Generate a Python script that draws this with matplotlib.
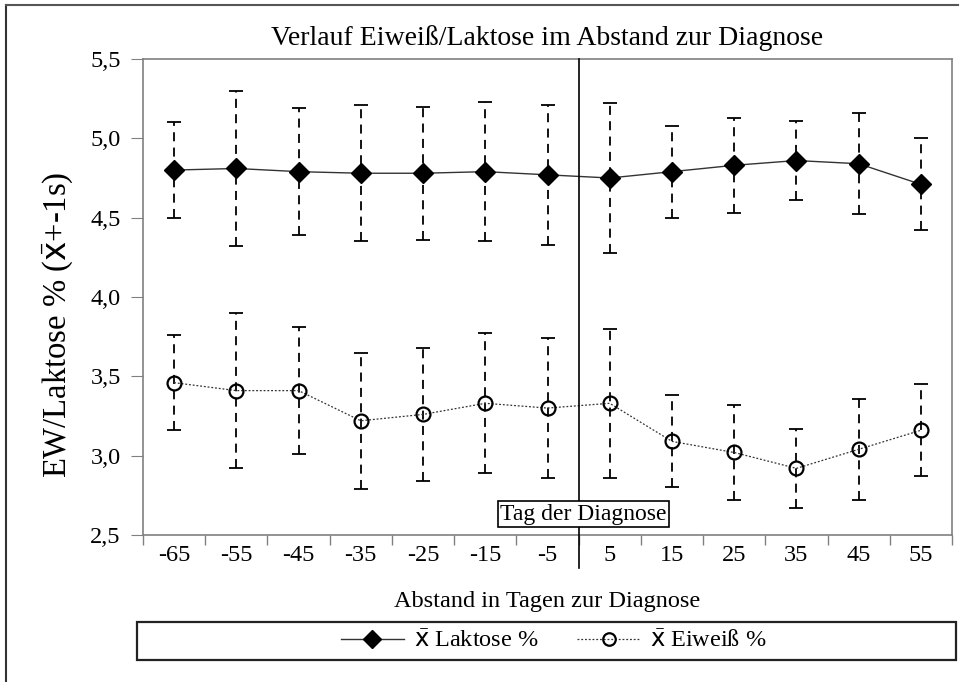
import numpy as np
import matplotlib.pyplot as plt
from matplotlib.lines import Line2D
from matplotlib.patches import Rectangle
from matplotlib.ticker import FuncFormatter, FixedLocator

plt.rcParams['font.family'] = ['Liberation Serif', 'DejaVu Sans']
plt.rcParams['mathtext.fontset'] = 'custom'
plt.rcParams['mathtext.rm'] = 'Liberation Serif'
plt.rcParams['mathtext.sf'] = 'DejaVu Sans'

days = ["-65", "-55", "-45", "-35", "-25", "-15", "-5", "5", "15", "25", "35", "45", "55"]

laktose_mean = [4.80, 4.81, 4.79, 4.78, 4.78, 4.79, 4.77, 4.75, 4.79, 4.83, 4.86, 4.84, 4.71]
laktose_hi = [5.10, 5.30, 5.19, 5.21, 5.20, 5.23, 5.21, 5.22, 5.08, 5.13, 5.11, 5.16, 5.00]
laktose_lo = [4.50, 4.32, 4.39, 4.35, 4.36, 4.35, 4.33, 4.28, 4.50, 4.53, 4.61, 4.52, 4.42]

eiweiss_mean = [3.46, 3.41, 3.41, 3.22, 3.26, 3.33, 3.30, 3.33, 3.09, 3.02, 2.92, 3.04, 3.16]
eiweiss_hi = [3.76, 3.90, 3.81, 3.65, 3.68, 3.77, 3.74, 3.80, 3.38, 3.32, 3.17, 3.36, 3.45]
eiweiss_lo = [3.16, 2.92, 3.01, 2.79, 2.84, 2.89, 2.86, 2.86, 2.80, 2.72, 2.67, 2.72, 2.87]

xbar = r"$\bar{\mathsf{x}}$"

x = np.arange(len(days))

fig = plt.figure(figsize=(9.68, 6.82), dpi=100)
ax = fig.add_axes([143 / 968, 1 - 535 / 682, 809 / 968, 476 / 682])

dash = (0, (5, 3.5))


def draw(mean, lo, hi, **kw):
    mean = np.array(mean)
    err = [mean - np.array(lo), np.array(hi) - mean]
    _, caps, bars = ax.errorbar(x, mean, yerr=err, fmt='none', ecolor='black',
                                elinewidth=1.3, capsize=5, capthick=1.3, zorder=2)
    for b in bars:
        b.set_linestyle(dash)
    ax.plot(x, mean, zorder=3, **kw)


draw(laktose_mean, laktose_lo, laktose_hi, color='#333333', lw=1.0,
     marker='D', markersize=10, markerfacecolor='black', markeredgecolor='black')
draw(eiweiss_mean, eiweiss_lo, eiweiss_hi, color='#333333', lw=0.9, ls=(0, (1.5, 1.5)),
     marker='o', markersize=10, markerfacecolor='none', markeredgecolor='black',
     markeredgewidth=1.6)

ax.set_xlim(-0.5, len(days) - 0.5)
ax.set_ylim(2.5, 5.5)
ax.set_yticks(np.arange(2.5, 5.51, 0.5))
ax.yaxis.set_major_formatter(FuncFormatter(lambda v, p: f"{v:.1f}".replace(".", ",")))
ax.set_xticks(x)
ax.set_xticklabels(days)
ax.xaxis.set_minor_locator(FixedLocator(np.arange(-0.5, len(days), 1.0)))
ax.tick_params(axis='x', which='major', length=0, labelsize=17.5, pad=7)
ax.tick_params(axis='x', which='minor', length=7, color='#808080', width=1)
ax.tick_params(axis='y', length=9, color='#808080', labelsize=17.5, pad=7)
for s in ax.spines.values():
    s.set_color('#808080')
    s.set_linewidth(1.2)

ax.axvline(6.5, ymin=-0.07, ymax=1, color='black', lw=1.2, clip_on=False, zorder=4)

ax.text(0.5445, 0.044, "Tag der Diagnose", transform=ax.transAxes, fontsize=17,
        ha='center', va='center', zorder=5,
        bbox=dict(boxstyle='square,pad=0.1', facecolor='white', edgecolor='black', lw=1.2))

ax.set_title("Verlauf Eiweiß/Laktose im Abstand zur Diagnose", fontsize=20, pad=10)
ax.set_xlabel("Abstand in Tagen zur Diagnose", fontsize=17.5, labelpad=18)
fig.text(58 / 968, 1 - 325 / 682, "EW/Laktose % (" + xbar + "+-1s)", rotation=90,
         fontsize=23.5, ha='center', va='center')

# outer frame (left and top only visible)
fig.add_artist(Line2D([6 / 968, 6 / 968], [0, 1 - 5 / 682], color='#333333', lw=1.5))
fig.add_artist(Line2D([6 / 968, 958 / 968], [1 - 5 / 682, 1 - 5 / 682], color='#555555', lw=1.5))

# legend box
fig.add_artist(Rectangle((137 / 968, 1 - 660 / 682), 819 / 968, 38 / 682,
                         transform=fig.transFigure, facecolor='none', edgecolor='#222222', lw=1.6))
handles = [
    Line2D([], [], color='#333333', lw=1.0, marker='D', markersize=9,
           markerfacecolor='black', markeredgecolor='black'),
    Line2D([], [], color='#333333', lw=0.9, ls=(0, (1.5, 1.5)), marker='o', markersize=9,
           markerfacecolor='none', markeredgecolor='black', markeredgewidth=1.6),
]
fig.legend(handles, [xbar + " Laktose %", xbar + " Eiweiß %"], loc='center',
           bbox_to_anchor=(0.572, 0.06), ncol=2, frameon=False, fontsize=17.5,
           handlelength=2.6, columnspacing=1.6, handletextpad=0.4)

fig.savefig("out.png", dpi=100)
